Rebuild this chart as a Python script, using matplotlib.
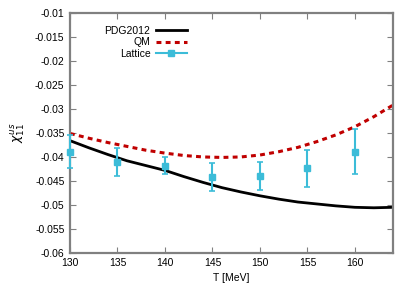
import matplotlib
matplotlib.use('Agg')
from matplotlib import pyplot as plt
from matplotlib.lines import Line2D

plt.rcParams['font.family'] = ['Liberation Sans', 'DejaVu Sans']
plt.rcParams['axes.unicode_minus'] = False

# curves
T_curve = [130, 132, 134, 136, 138, 140, 142, 144, 146, 148, 150,
           152, 154, 156, 158, 160, 162, 164]
pdg = [-0.0366, -0.0381, -0.0395, -0.0408, -0.0418, -0.0428, -0.0441,
       -0.0453, -0.0464, -0.0473, -0.0481, -0.0488, -0.0494, -0.0498,
       -0.0502, -0.0505, -0.0506, -0.0505]
qm = [-0.0351, -0.0361, -0.0370, -0.0378, -0.0386, -0.0392, -0.0397,
      -0.0400, -0.0401, -0.0400, -0.0396, -0.0389, -0.0380, -0.0368,
      -0.0354, -0.0337, -0.0316, -0.0292]

# lattice points
T_lat = [130, 135, 140, 145, 150, 155, 160]
lat = [-0.0389, -0.0410, -0.0418, -0.0442, -0.0440, -0.0424, -0.0389]
lat_err = [0.0035, 0.0029, 0.0017, 0.0030, 0.0029, 0.0038, 0.0047]

xticks = [130, 135, 140, 145, 150, 155, 160]
yticks = [-0.06, -0.055, -0.05, -0.045, -0.04, -0.035, -0.03,
          -0.025, -0.02, -0.015, -0.01]
ytick_labels = ['-0.06', '-0.055', '-0.05', '-0.045', '-0.04', '-0.035',
                '-0.03', '-0.025', '-0.02', '-0.015', '-0.01']

lat_color = '#3cbcd8'

fig = plt.figure(figsize=(4.14, 2.9), dpi=100)
ax = fig.add_axes([0.169, 0.128, 0.780, 0.827])

l1, = ax.plot(T_curve, pdg, color='black', lw=2, label='PDG2012')
l2, = ax.plot(T_curve, qm, color='#c00000', lw=2.2, ls=(0, (1.6, 1.4)),
              label='QM')
ax.errorbar(T_lat, lat, yerr=lat_err, color=lat_color, lw=1.5, ls='none',
            marker='s', ms=4, capsize=2, capthick=1.2,
            clip_on=False, zorder=3)

ax.set_xlim(130, 164)
ax.set_ylim(-0.06, -0.01)
ax.set_xticks(xticks)
ax.set_yticks(yticks)
ax.set_yticklabels(ytick_labels)
ax.tick_params(direction='in', length=4, width=0.8, color='#808080',
               top=True, right=True, labelsize=7.5, pad=4)
for s in ax.spines.values():
    s.set_color('#808080')
    s.set_linewidth(1.6)

ax.set_xlabel('T [MeV]', fontsize=7.5, labelpad=3)
ax.set_ylabel(r'$\chi_{11}^{us}$', fontsize=9, labelpad=6)

# gnuplot-like key: text first, sample after it
l3 = Line2D([], [], color=lat_color, lw=1.5, marker='s', ms=4)
ax.legend([l1, l2, l3], ['PDG2012', 'QM', 'Lattice'], loc='upper right',
          bbox_to_anchor=(0.375, 0.965), frameon=False, markerfirst=False,
          fontsize=7.5, handlelength=3.0, labelspacing=0.15,
          handletextpad=0.5, borderaxespad=0, numpoints=1)

plt.savefig('out.png', dpi=100)
